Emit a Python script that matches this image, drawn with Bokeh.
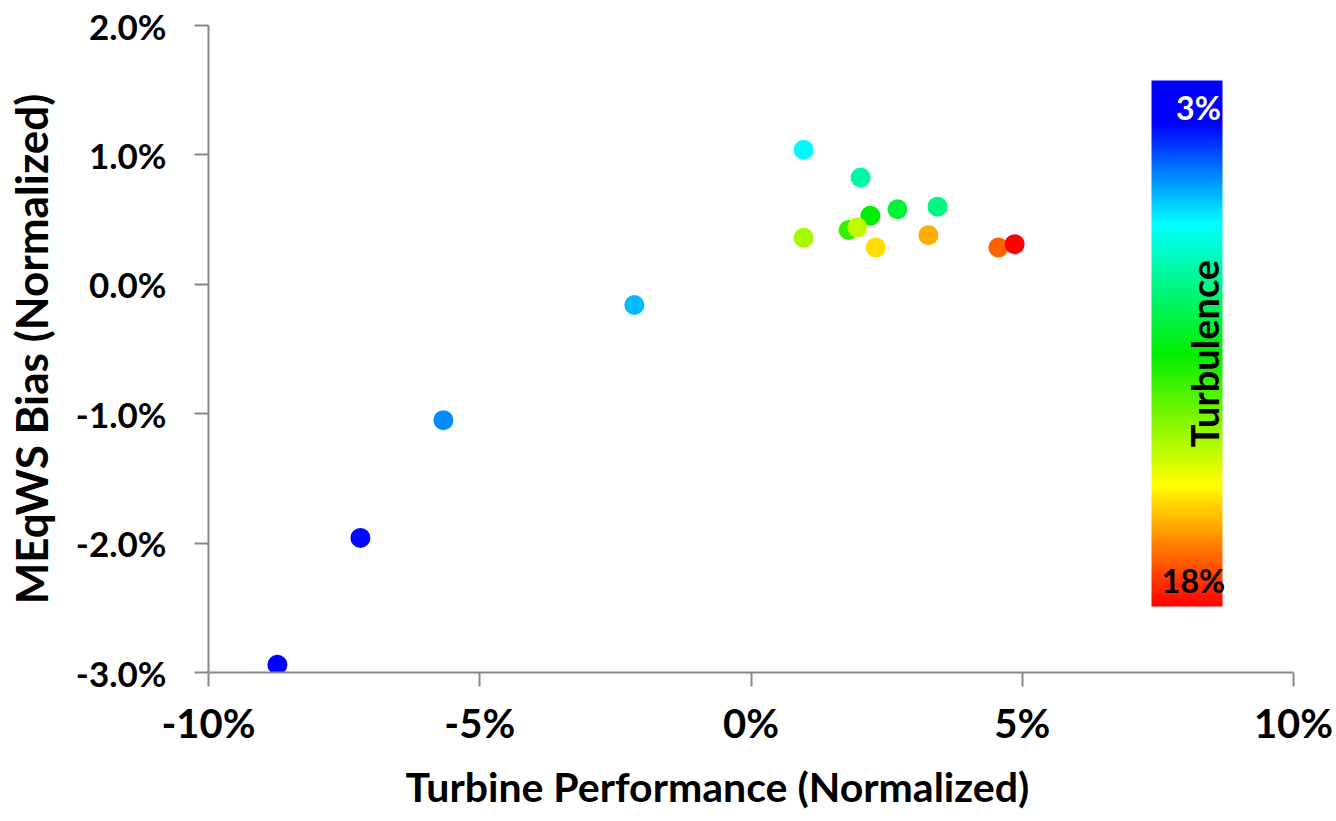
import numpy as np
from bokeh.plotting import figure
from bokeh.models import (ColumnDataSource, LinearColorMapper, ColorBar, Label, Title,
                          FixedTicker, PrintfTickFormatter, Range1d)
from bokeh.embed import file_html
from bokeh.resources import INLINE

# ---- data ----
performance = [-8.73, -7.20, -5.67, -2.15, 0.97, 2.02, 3.44, 2.70, 2.20, 1.80, 1.96, 0.97, 2.30, 3.27, 4.56, 4.86]
meqws_bias = [-2.94, -1.96, -1.05, -0.16, 1.04, 0.825, 0.60, 0.58, 0.53, 0.42, 0.44, 0.36, 0.285, 0.38, 0.285, 0.31]
turbulence = [3.3, 4.3, 5.8, 6.3, 7.0, 8.4, 8.9, 10.0, 10.8, 11.5, 13.6, 13.2, 15.0, 15.6, 16.7, 18.0]
x_ticks = [-10, -5, 0, 5, 10]
y_ticks = [-3, -2, -1, 0, 1, 2]
turb_low, turb_high = 3, 18
x_title = "Turbine Performance (Normalized)"
y_title = "MEqWS Bias (Normalized)"

# ---- palette (blue -> cyan -> green -> yellow -> red) ----
stops = [(0.0, (0, 0, 255)), (0.08, (0, 0, 255)), (0.27, (0, 255, 255)),
         (0.52, (0, 238, 0)), (0.77, (255, 255, 0)), (1.0, (255, 0, 0))]
def interp(f):
    for (f0, c0), (f1, c1) in zip(stops[:-1], stops[1:]):
        if f <= f1:
            t = 0 if f1 == f0 else (f - f0) / (f1 - f0)
            return tuple(int(round(a + (b - a) * t)) for a, b in zip(c0, c1))
    return stops[-1][1]
palette = ["#%02x%02x%02x" % interp(f) for f in np.linspace(0, 1, 256)]

mapper = LinearColorMapper(palette=palette, low=turb_low, high=turb_high)
bar_mapper = LinearColorMapper(palette=palette[::-1], low=turb_low, high=turb_high)

src = ColumnDataSource(dict(x=performance, y=meqws_bias, t=turbulence))

p = figure(width=1336, height=821, output_backend="svg", toolbar_location=None,
           x_range=Range1d(-10, 10), y_range=Range1d(-3, 2))
p.min_border_left = 208
p.min_border_right = 43
p.min_border_top = 25
p.min_border_bottom = 149
p.outline_line_color = None
p.grid.visible = False
p.background_fill_color = "white"
p.border_fill_color = "white"

p.scatter("x", "y", source=src, size=20, line_color=None,
          fill_color={"field": "t", "transform": mapper})

font = "Lato"
for ax in (p.xaxis[0], p.yaxis[0]):
    ax.axis_line_color = "#888888"
    ax.axis_line_width = 2
    ax.major_tick_line_color = "#888888"
    ax.major_tick_line_width = 2
    ax.major_tick_in = 0
    ax.major_tick_out = 14
    ax.minor_tick_line_color = None
    ax.major_label_text_font = font
    ax.major_label_text_font_style = "bold"
    ax.major_label_text_color = "black"
    ax.axis_label_text_font = font
    ax.axis_label_text_font_style = "bold"
    ax.axis_label_text_color = "black"

p.xaxis.ticker = FixedTicker(ticks=x_ticks)
p.yaxis.ticker = FixedTicker(ticks=y_ticks)
p.xaxis.formatter = PrintfTickFormatter(format="%d%%")
p.yaxis.formatter = PrintfTickFormatter(format="%.1f%%")
p.xaxis.major_label_text_font_size = "40px"
p.yaxis.major_label_text_font_size = "35px"
p.xaxis.major_label_standoff = 12
p.yaxis.major_label_standoff = 28
p.yaxis.axis_label = y_title
p.yaxis.axis_label_text_font_size = "44px"
p.yaxis.axis_label_standoff = 16

# x-axis title (offset to the left, as in the original)
p.add_layout(Title(text=x_title, align="left", offset=197, standoff=20,
                   text_font=font, text_font_style="bold", text_font_size="41px",
                   text_color="black"), "below")

cb = ColorBar(color_mapper=bar_mapper, location=(943, 66), width=71, height=526,
              padding=0, margin=0, ticker=FixedTicker(ticks=[]),
              major_label_text_font_size="0px", major_tick_line_color=None,
              bar_line_color=None, border_line_color=None, background_fill_alpha=0)
p.add_layout(cb, "center")

p.add_layout(Label(x=990, y=565, x_units="screen", y_units="screen", text="3%",
                   text_font=font, text_font_style="bold", text_font_size="32px",
                   text_color="white", text_align="center", text_baseline="middle"))
p.add_layout(Label(x=985, y=92, x_units="screen", y_units="screen", text="18%",
                   text_font=font, text_font_style="bold", text_font_size="32px",
                   text_color="black", text_align="center", text_baseline="middle"))
p.add_layout(Label(x=995, y=319, x_units="screen", y_units="screen", text="Turbulence",
                   text_font=font, text_font_style="bold", text_font_size="38px",
                   text_color="black", text_align="center", text_baseline="middle",
                   angle=np.pi / 2))

open("out.html", "w").write(file_html(p, INLINE))
